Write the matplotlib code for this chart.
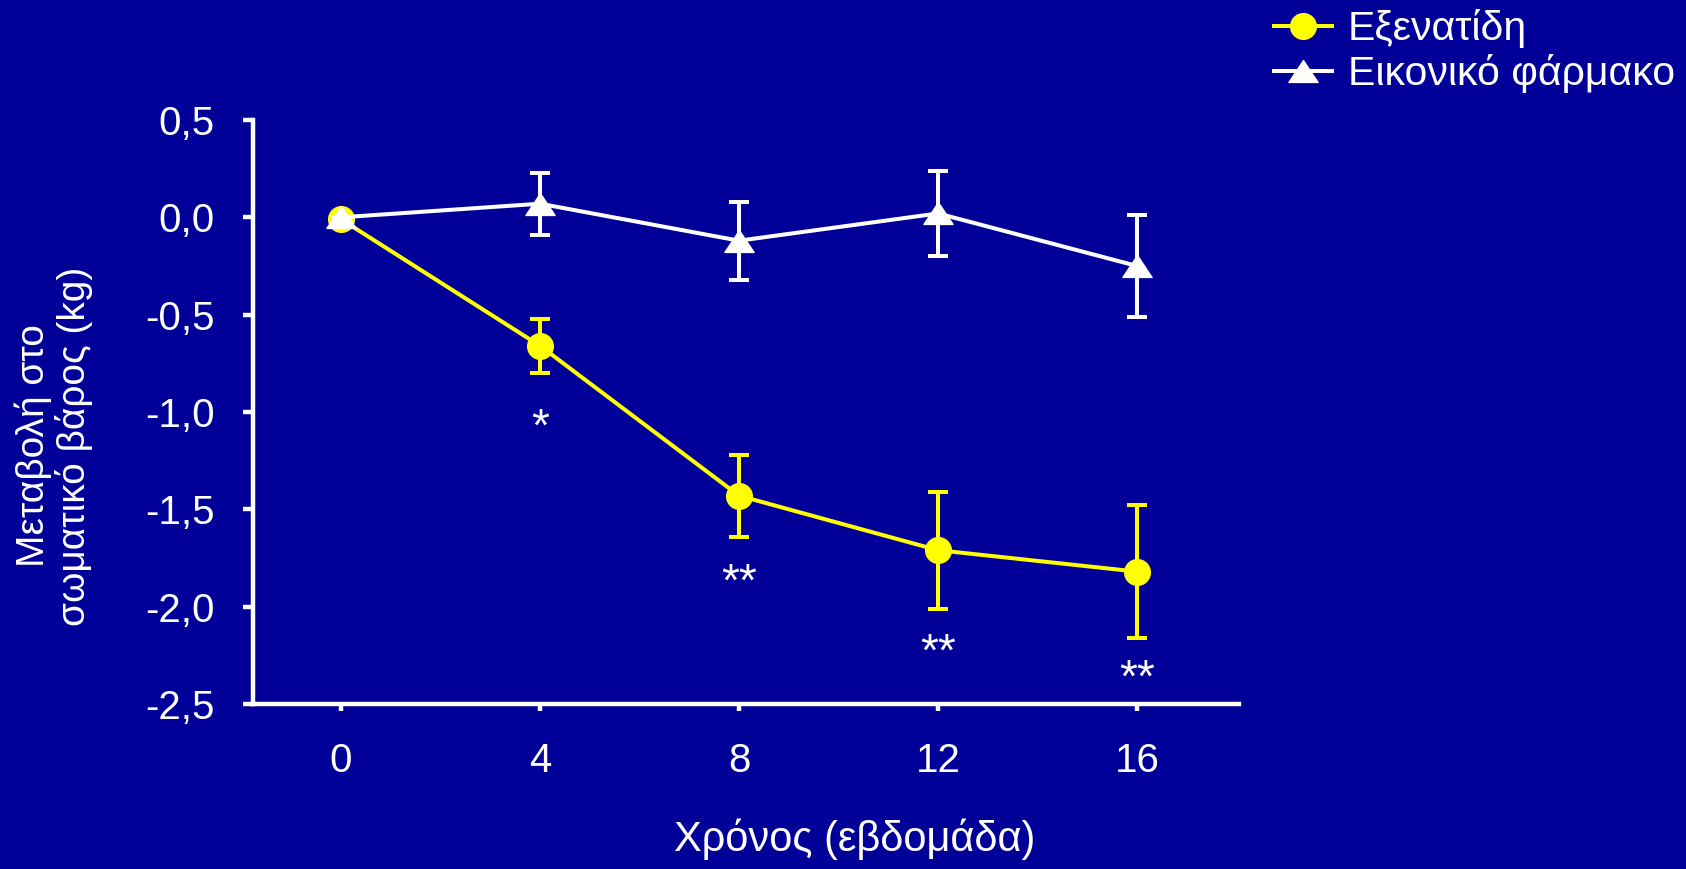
import matplotlib
matplotlib.use("Agg")
import matplotlib.pyplot as plt
import numpy as np
from matplotlib.path import Path
from matplotlib.lines import Line2D

plt.rcParams['font.family'] = ['Liberation Sans', 'DejaVu Sans']

BG = '#000099'
YELLOW = '#FFFF00'
WHITE = '#FFFFFF'

# Data
weeks = [0, 4, 8, 12, 16]
exenatide = [-0.01, -0.66, -1.43, -1.71, -1.82]
exenatide_err = [0.0, 0.14, 0.21, 0.30, 0.34]
placebo = [0.0, 0.07, -0.12, 0.02, -0.25]
placebo_err = [0.0, 0.16, 0.20, 0.22, 0.26]

star_weeks = [4, 8, 12, 16]
star_labels = ['*', '**', '**', '**']
star_y = [-1.06, -1.86, -2.22, -2.35]

series_names = ['Εξενατίδη', 'Εικονικό φάρμακο']
ylabel = 'Μεταβολή στο\nσωματικό βάρος (kg)'
xlabel = 'Χρόνος (εβδομάδα)'
yticks = [0.5, 0.0, -0.5, -1.0, -1.5, -2.0, -2.5]

# flat triangle marker
tri = Path([(0, 0.75), (-1, -0.75), (1, -0.75), (0, 0.75)],
           [Path.MOVETO, Path.LINETO, Path.LINETO, Path.CLOSEPOLY])

fig = plt.figure(figsize=(16.86, 8.69), dpi=100, facecolor=BG)
ax = fig.add_axes([253 / 1686, 1 - 704 / 869, (1239 - 253) / 1686, (704 - 120) / 869])
ax.set_facecolor(BG)

LW = 2.9
ax.errorbar(weeks, exenatide, yerr=exenatide_err, color=YELLOW, lw=LW,
            marker='o', ms=18.5, mfc=YELLOW, mec=YELLOW, elinewidth=LW,
            capsize=7.5, capthick=LW, zorder=3)
ax.errorbar(weeks, placebo, yerr=placebo_err, color=WHITE, lw=LW,
            marker=tri, ms=21, mfc=WHITE, mec=WHITE, elinewidth=LW,
            capsize=7.5, capthick=LW, zorder=4)

for xw, s, yv in zip(star_weeks, star_labels, star_y):
    ax.annotate(s, (xw, yv), xytext=(0, -12), textcoords='offset points',
                ha='center', va='baseline', color=WHITE, fontsize=33)

ax.set_xlim(-1.77, 18.05)
ax.set_ylim(-2.5, 0.5)
ax.set_xticks(weeks)
ax.set_yticks(yticks)
ax.set_yticklabels([f'{v:.1f}'.replace('.', ',') for v in yticks])

for side in ('top', 'right'):
    ax.spines[side].set_visible(False)
for side in ('left', 'bottom'):
    ax.spines[side].set_color(WHITE)
    ax.spines[side].set_linewidth(3.2)

ax.tick_params(axis='y', colors=WHITE, labelsize=29, length=7.5, width=3.2, pad=20)
ax.tick_params(axis='x', colors=WHITE, labelsize=29, length=5, width=3.2, pad=22)

fig.text(54 / 1686, 1 - 446 / 869, ylabel, rotation=90, ha='center', va='center',
         multialignment='center', color=WHITE, fontsize=28, linespacing=1.1)
fig.text(855 / 1686, 1 - 839 / 869, xlabel, ha='center', va='center',
         color=WHITE, fontsize=30)

handles = [
    Line2D([], [], color=YELLOW, lw=LW, marker='o', ms=18.5, mfc=YELLOW, mec=YELLOW),
    Line2D([], [], color=WHITE, lw=LW, marker=tri, ms=21, mfc=WHITE, mec=WHITE),
]
leg = fig.legend(handles, series_names, loc='upper left',
                 bbox_to_anchor=(1274 / 1686, 1 - 9 / 869), frameon=False,
                 fontsize=29.5, handlelength=1.42, handletextpad=0.38, labelspacing=0.15,
                 borderaxespad=0.0, borderpad=0.0)
for t in leg.get_texts():
    t.set_color(WHITE)

fig.savefig('out.png', dpi=100, facecolor=BG)
